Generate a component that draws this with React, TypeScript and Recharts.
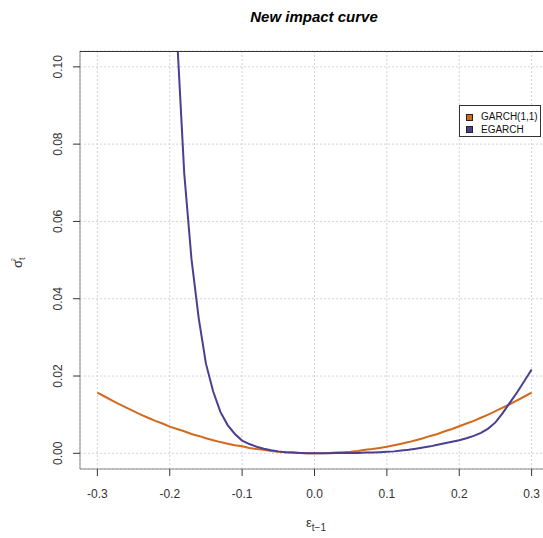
import React from "react";
import { LineChart, Line, XAxis, YAxis, CartesianGrid } from "recharts";

// shock values on the x axis
const EPS = [
  -0.3, -0.29, -0.28, -0.27, -0.26, -0.25, -0.24, -0.23, -0.22, -0.21,
  -0.2, -0.19, -0.18, -0.17, -0.16, -0.15, -0.14, -0.13, -0.12, -0.11,
  -0.1, -0.09, -0.08, -0.07, -0.06, -0.05, -0.04, -0.03, -0.02, -0.01,
  0,
  0.01, 0.02, 0.03, 0.04, 0.05, 0.06, 0.07, 0.08, 0.09, 0.1,
  0.11, 0.12, 0.13, 0.14, 0.15, 0.16, 0.17, 0.18, 0.19, 0.2,
  0.21, 0.22, 0.23, 0.24, 0.25, 0.26, 0.27, 0.28, 0.29, 0.3,
];

const GARCH = [
  0.0157, 0.0147, 0.0137, 0.0127, 0.0118, 0.0109, 0.01, 0.0092, 0.0084, 0.0077,
  0.0069, 0.0063, 0.0057, 0.005, 0.0045, 0.0039, 0.0034, 0.0029, 0.0025, 0.0021,
  0.0018, 0.0014, 0.0011, 0.0009, 0.0006, 0.0004, 0.0003, 0.0002, 0.0001, 0.0,
  0,
  0.0, 0.0001, 0.0002, 0.0003, 0.0004, 0.0006, 0.0009, 0.0011, 0.0014, 0.0017,
  0.0021, 0.0025, 0.0029, 0.0034, 0.0039, 0.0045, 0.005, 0.0057, 0.0063, 0.007,
  0.0077, 0.0084, 0.0092, 0.01, 0.0109, 0.0118, 0.0127, 0.0137, 0.0147, 0.0157,
];

const EGARCH: (number | null)[] = [
  null, null, null, null, null, null, null, null, null, null,
  0.16, 0.108, 0.0725, 0.0503, 0.035, 0.0232, 0.016, 0.0107, 0.0073, 0.005,
  0.0033, 0.0024, 0.0017, 0.0012, 0.0008, 0.0005, 0.0003, 0.0002, 0.0001, 0.0,
  0,
  0.0, 0.0, 0.0001, 0.0001, 0.0001, 0.0001, 0.0002, 0.0002, 0.0003, 0.0004,
  0.0005, 0.0007, 0.0009, 0.0012, 0.0015, 0.0018, 0.0022, 0.0026, 0.003, 0.0034,
  0.0039, 0.0045, 0.0053, 0.0064, 0.008, 0.0104, 0.0131, 0.0158, 0.0187, 0.0217,
];

const X_TICKS = [-0.3, -0.2, -0.1, 0, 0.1, 0.2, 0.3];
const Y_TICKS = [0, 0.02, 0.04, 0.06, 0.08, 0.1];

const SERIES = [
  { key: "garch", name: "GARCH(1,1)", color: "#D2691E" },
  { key: "egarch", name: "EGARCH", color: "#4B3F90" },
];

const data = EPS.map((x, i) => ({ x, garch: GARCH[i], egarch: EGARCH[i] }));

const FONT = "'Liberation Sans', Arial, sans-serif";

function XTick({ x, y, payload }: any) {
  return (
    <text x={x} y={y + 20} textAnchor="middle" fontSize={12} fill="#333" fontFamily={FONT}>
      {payload.value.toFixed(1)}
    </text>
  );
}

function YTick({ x, y, payload }: any) {
  const tx = x - 9;
  return (
    <text x={tx} y={y} transform={`rotate(-90, ${tx}, ${y})`} textAnchor="middle"
      fontSize={12} fill="#333" fontFamily={FONT}>
      {payload.value.toFixed(2)}
    </text>
  );
}

function LegendBox() {
  return (
    <div style={{
      position: "absolute", left: 459, top: 105,
      width: 82, height: 32, border: "1px solid #333", background: "#fff",
      fontFamily: FONT, fontSize: 10, color: "#111", boxSizing: "border-box",
      padding: "5px 0 0 6px", lineHeight: "12.5px",
    }}>
      {SERIES.map((s) => (
        <div key={s.key} style={{ display: "flex", alignItems: "center" }}>
          <span style={{
            width: 5, height: 5, background: s.color, border: "1px solid #222",
            marginRight: 8, display: "inline-block",
          }} />
          {s.name}
        </div>
      ))}
    </div>
  );
}

export default function App() {
  return (
    <div style={{
      position: "absolute", left: 0, top: 0, width: 543, height: 538,
      overflow: "hidden", background: "#fff",
    }}>
      <div style={{
        position: "absolute", left: 80, width: 468, top: 8, textAlign: "center",
        fontFamily: FONT, fontWeight: "bold", fontStyle: "italic", fontSize: 15, color: "#000",
      }}>
        New impact curve
      </div>
      <LineChart width={549} height={538} data={data}
        margin={{ top: 51, right: 0, bottom: 0, left: 0 }}>
        <CartesianGrid stroke="#d3d3d3" strokeDasharray="2 2" />
        <XAxis type="number" dataKey="x" domain={[-0.324, 0.324]} ticks={X_TICKS}
          allowDataOverflow height={69} tickSize={7}
          axisLine={{ stroke: "#888" }} tickLine={{ stroke: "#333" }}
          tick={<XTick />} interval={0}
          label={{
            content: () => (
              <text x={306} y={527} fontFamily={FONT} fill="#333">
                <tspan fontSize={13}>ε</tspan>
                <tspan fontSize={10} dy={4}>t−1</tspan>
              </text>
            ),
          }} />
        <YAxis type="number" domain={[-0.00406, 0.1041]} ticks={Y_TICKS}
          allowDataOverflow width={80} tickSize={7} interval={0}
          axisLine={{ stroke: "#888" }} tickLine={{ stroke: "#333" }}
          tick={<YTick />}
          label={{
            content: () => (
              <text x={22} y={268} transform="rotate(-90, 22, 268)" fontFamily={FONT} fill="#333">
                <tspan fontSize={13}>σ</tspan>
                <tspan fontSize={9} dy={3}>t</tspan>
                <tspan fontSize={6} dy={-10} dx={-4}>2</tspan>
              </text>
            ),
          }} />
        {SERIES.map((s) => (
          <Line key={s.key} type="linear" dataKey={s.key} name={s.name}
            stroke={s.color} strokeWidth={2} dot={false} connectNulls={false}
            isAnimationActive={false} />
        ))}
      </LineChart>
      {/* top frame line of the plot box */}
      <div style={{
        position: "absolute", left: 80, top: 51, width: 470, height: 1, background: "#333",
      }} />
      <LegendBox />
    </div>
  );
}
